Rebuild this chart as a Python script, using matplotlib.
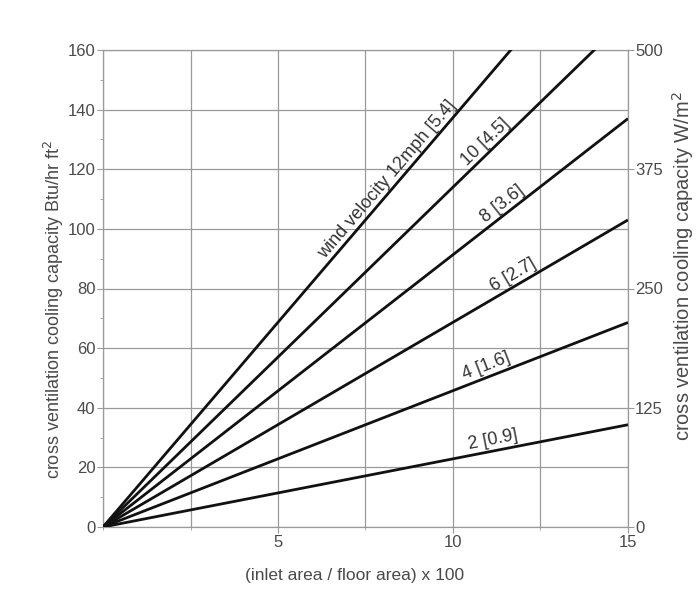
import numpy as np
import matplotlib
matplotlib.use("Agg")
from matplotlib import pyplot as plt
from matplotlib.ticker import MultipleLocator

plt.rcParams['font.family'] = ['Liberation Sans', 'DejaVu Sans']

# capacity (Btu/hr ft2) at ratio 15
ratio_end = 15
wind_labels = ['2 [0.9]', '4 [1.6]', '6 [2.7]', '8 [3.6]', '10 [4.5]',
               'wind velocity 12mph [5.4]']
capacity_at_15 = [34.3, 68.6, 103, 137, 171, 206]
# where each label sits (x along the line)
label_x = [11.2, 11.05, 11.85, 11.55, 11.1, 8.3]

right_ticks = [0, 125, 250, 375, 500]

grey = '#9a9a9a'
txt = '#4a4a4a'

fig = plt.figure(figsize=(6.97, 5.94), dpi=100)
ax = fig.add_axes([103/697, 1-527/594, 525/697, 477/594])

xs = np.array([0, ratio_end])
for cap in capacity_at_15:
    ax.plot(xs, xs * cap / ratio_end, color='#111111', lw=2.0,
            solid_capstyle='butt', zorder=3)

ax.set_xlim(0, 15)
ax.set_ylim(0, 160)
ax.xaxis.set_minor_locator(MultipleLocator(2.5))
ax.yaxis.set_major_locator(MultipleLocator(20))
ax.yaxis.set_minor_locator(MultipleLocator(10))
ax.set_xticks([5, 10, 15])
ax.grid(True, which='major', axis='y', color=grey, lw=0.9)
ax.grid(True, which='both', axis='x', color=grey, lw=0.9)
for s in ax.spines.values():
    s.set_color(grey)
    s.set_linewidth(0.9)
ax.tick_params(which='both', colors=grey, labelcolor=txt, labelsize=12,
               direction='out')
ax.tick_params(which='major', length=4, pad=1.5)
ax.tick_params(which='minor', length=2.5)
ax.set_xlabel('(inlet area / floor area) x 100', fontsize=12.5, color=txt,
              labelpad=10)
ax.xaxis.set_label_coords(0.48, -0.085)
ax.set_ylabel('cross ventilation cooling capacity Btu/hr ft$^2$', fontsize=13,
              color=txt)
ax.yaxis.set_label_coords(-0.07, 0.457)

ax2 = ax.twinx()
ax2.set_ylim(0, 500)
ax2.set_yticks(right_ticks)
for s in ax2.spines.values():
    s.set_visible(False)
ax2.tick_params(colors=grey, labelcolor=txt, labelsize=12, length=4,
                pad=1)
ax2.set_ylabel('cross ventilation cooling capacity W/m$^2$', fontsize=14.5,
               color=txt)
ax2.yaxis.set_label_coords(1.08, 0.547)

fig.canvas.draw()
for lab, cap, lx in zip(wind_labels, capacity_at_15, label_x):
    slope = cap / ratio_end
    p0 = ax.transData.transform((0, 0))
    p1 = ax.transData.transform((10, 10 * slope))
    ang = np.degrees(np.arctan2(p1[1] - p0[1], p1[0] - p0[0]))
    ax.annotate(lab, (lx, lx * slope), xytext=(0, 1.5),
                textcoords='offset points', rotation=ang,
                rotation_mode='anchor', ha='center', va='bottom',
                fontsize=13, color='#333333', zorder=4)

fig.savefig('out.png', dpi=100)
